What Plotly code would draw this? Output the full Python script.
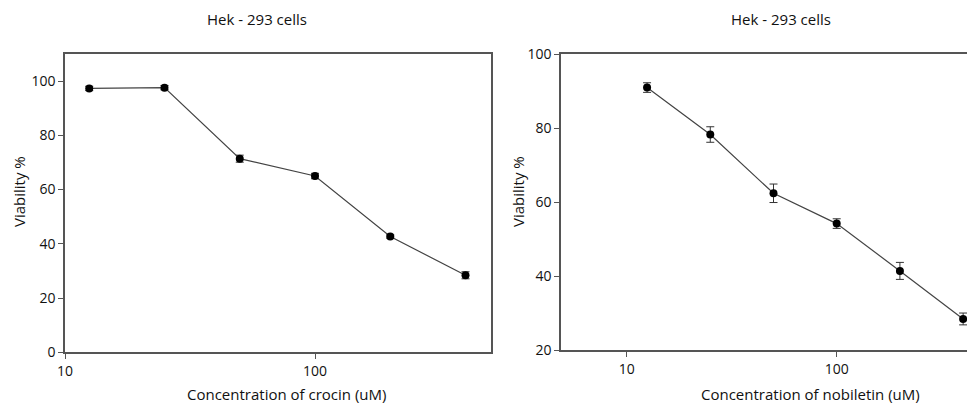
import plotly.graph_objects as go

conc = [12.5, 25, 50, 100, 200, 400]
crocin_viab = [97.3, 97.6, 71.4, 65.0, 42.7, 28.4]
crocin_err = [0.8, 0.8, 1.3, 1.0, 0.6, 1.3]
nobiletin_viab = [91.0, 78.3, 62.4, 54.2, 41.4, 28.4]
nobiletin_err = [1.3, 2.1, 2.5, 1.3, 2.3, 1.6]
title_text = "Hek - 293 cells"
y_title = "Viability %"
x_title_left = "Concentration of crocin (uM)"
x_title_right = "Concentration of nobiletin (uM)"

FONT = "Open Sans"
LINE = "#555555"
OFF = 8          # page body margin
W, H = 975 - OFF, 407 - OFF

def px(X):
    return (X - OFF) / W

def py(Y):
    return 1 - (Y - OFF) / H

fig = go.Figure()

def add(x, y, err, xa, ya):
    fig.add_trace(go.Scatter(
        x=x, y=y, xaxis=xa, yaxis=ya, mode="lines+markers",
        line=dict(color="#444444", width=1.2),
        marker=dict(color="black", size=8),
        error_y=dict(type="data", array=err, visible=True, color="#333333",
                     thickness=1, width=4),
        showlegend=False, cliponaxis=False))

add(conc, crocin_viab, crocin_err, "x", "y")
add(conc, nobiletin_viab, nobiletin_err, "x2", "y2")

ax_common = dict(showline=True, linecolor=LINE, linewidth=1.5, ticks="outside",
                 ticklen=5, tickcolor=LINE, showgrid=False, zeroline=False,
                 automargin=False,
                 tickfont=dict(family=FONT, size=14, color="#111"))

fig.update_layout(
    width=W, height=H, margin=dict(l=0, r=0, t=0, b=0, autoexpand=False),
    plot_bgcolor="white", paper_bgcolor="white",
    font=dict(family=FONT, color="#111"),
    xaxis=dict(domain=[px(65), px(491)], type="log", range=[1, 2.704],
               tickvals=[10, 100], ticktext=["10", "100"], mirror=True, anchor="y",
               **ax_common),
    yaxis=dict(domain=[py(352.3), py(54)], range=[0, 110],
               tickvals=[0, 20, 40, 60, 80, 100], mirror=True, anchor="x", **ax_common),
    xaxis2=dict(domain=[px(561), 1.0], type="log", range=[0.687, 2.6586],
                tickvals=[10, 100], ticktext=["10", "100"], mirror=True, anchor="y2",
                **ax_common),
    yaxis2=dict(domain=[py(350), py(54.3)], range=[20, 100],
                tickvals=[20, 40, 60, 80, 100], anchor="x2", **ax_common),
)

ann = []
def txt(x, y, t, size=15, angle=0):
    ann.append(dict(x=px(x), y=py(y), xref="paper", yref="paper", text=t,
                    showarrow=False, textangle=angle,
                    font=dict(family=FONT, size=size, color="#111"),
                    xanchor="center", yanchor="middle"))

txt(257, 19, title_text, 15)
txt(781, 19, title_text, 15)
txt(286, 394, x_title_left, 15)
txt(810, 394, x_title_right, 15)
txt(19, 192, y_title, 15, -90)
txt(518, 192, y_title, 15, -90)
fig.update_layout(annotations=ann)

fig.write_html("out.html")
